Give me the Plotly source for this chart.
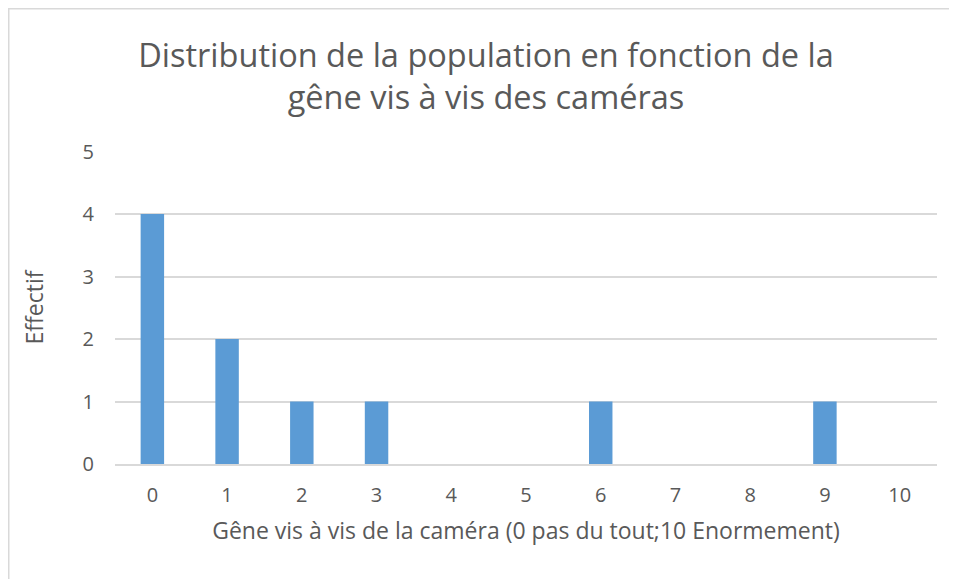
import plotly.graph_objects as go

categories = ["0", "1", "2", "3", "4", "5", "6", "7", "8", "9", "10"]
effectif = [4, 2, 1, 1, 0, 0, 1, 0, 0, 1, 0]
y_ticks = [0, 1, 2, 3, 4, 5]

title_text = "Distribution de la population en fonction de la<br>gêne vis à vis des caméras"
x_title = "Gêne vis à vis de la caméra (0 pas du tout;10 Enormement)"
y_title = "Effectif"

# page body adds an 8px margin; work in figure coords = page coords - 8
OFF = 8
W, H = 957 - OFF, 579 - OFF
ML, MT = 115 - OFF, 151 - OFF
PR, PB = 937 - OFF, 464 - OFF
MR, MB = W - PR, H - PB
pw = W - ML - MR
ph = H - MT - MB

FONT = "Open Sans"
TXT = "#595959"

fig = go.Figure(go.Bar(
    x=categories, y=effectif,
    marker=dict(color="#5B9BD5", line=dict(width=0)),
))

# chart border (paper coords relative to plot area)
bx0 = (0.5 - ML) / pw
by1 = 1 + (MT - 0.5) / ph
bx1 = (W + 20 - ML) / pw
by0 = -(MB + 20) / ph

fig.update_layout(
    width=W, height=H,
    margin=dict(l=ML, r=MR, t=MT, b=MB),
    paper_bgcolor="white", plot_bgcolor="white",
    bargap=0.686,
    showlegend=False,
    title=dict(text=title_text, x=478 / W, xanchor="center", xref="container",
               y=1 - (67 - OFF) / H, yanchor="middle",
               font=dict(family=FONT, size=32.5, color=TXT)),
    font=dict(family=FONT, color=TXT),
    xaxis=dict(
        type="category", showgrid=False, showline=True, linecolor="#d9d9d9", linewidth=1.5,
        ticks="", ticklabelstandoff=12, tickfont=dict(size=20, color=TXT),
        title=dict(text=x_title, font=dict(size=23, color=TXT), standoff=16),
    ),
    yaxis=dict(
        range=[0, 5.01], tickvals=y_ticks, showgrid=True, gridcolor="#d9d9d9", gridwidth=1.5,
        zeroline=False, showline=False, ticks="", ticklabelstandoff=20,
        tickfont=dict(size=20, color=TXT),
        title=dict(text=y_title, font=dict(size=23, color=TXT), standoff=32),
    ),
    shapes=[dict(type="rect", xref="paper", yref="paper",
                 x0=bx0, x1=bx1, y0=by0, y1=by1,
                 line=dict(color="#d9d9d9", width=2), fillcolor="rgba(0,0,0,0)", layer="below")],
)

fig.write_html("out.html")
